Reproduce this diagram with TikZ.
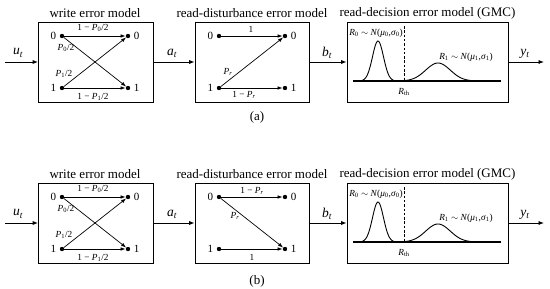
\documentclass[tikz,border=0pt]{standalone}
\usepackage{fontspec}
\setmainfont{Liberation Serif}
\usetikzlibrary{arrows.meta}
\tikzset{
  box/.style={draw, line width=0.8pt, minimum width=#1, minimum height=80pt, inner sep=0pt},
  dotn/.style={circle, fill, inner sep=0pt, minimum size=4.4pt},
  arr/.style={-{Latex[length=5pt,width=3.6pt]}, line width=0.7pt},
  mainarr/.style={-{Latex[length=5.5pt,width=4.2pt]}, line width=0.9pt},
  ttl/.style={font=\fontsize{13}{15}\selectfont, inner sep=0pt},
  lbl/.style={font=\fontsize{9.3}{10}\selectfont, inner sep=0pt},
  bit/.style={font=\fontsize{11}{12}\selectfont},
  var/.style={font=\fontsize{13.5}{14}\selectfont\itshape, inner sep=0pt},
  curve/.style={line width=0.9pt},
}
\newcommand\Pv[1]{\textit{P}\textsubscript{#1}}
\newcommand\rowcommon[2]{%
  \begin{scope}[shift={(0,#2)}]
    % boxes
    \node[box=115pt] (wb#1) at (96,62) {};
    \node[box=114pt] (db#1) at (252,62) {};
    \node[box=161pt] (gb#1) at (427.5,62) {};
    \node[ttl] (wt#1) at (95,13) {write error model};
    \node[ttl] (dt#1) at (252,13) {read-disturbance error model};
    \node[ttl] (gt#1) at (427.5,13) {read-decision error model (GMC)};
    % main arrows
    \coordinate (in#1) at (5,62);
    \coordinate (out#1) at (544,62);
    \draw[mainarr] (in#1) -- (wb#1);
    \draw[mainarr] (wb#1) -- (db#1);
    \draw[mainarr] (db#1) -- (gb#1);
    \draw[mainarr] (gb#1) -- (out#1);
    \node[var] (u#1) at (18,53) {u\textsubscript{t}};
    \node[var] (a#1) at (172,53) {a\textsubscript{t}};
    \node[var] (b#1) at (327,53) {b\textsubscript{t}};
    \node[var] (y#1) at (525,54) {y\textsubscript{t}};
    % write error model
    \node[dotn,label={[bit]left:0}] (wl0#1) at (62,36) {};
    \node[dotn,label={[bit]right:0}] (wr0#1) at (128,36) {};
    \node[dotn,label={[bit]left:1}] (wl1#1) at (62,88) {};
    \node[dotn,label={[bit]right:1}] (wr1#1) at (128,88) {};
    \draw[arr] (wl0#1) -- (wr0#1);
    \draw[arr] (wl0#1) -- (wr1#1);
    \draw[arr] (wl1#1) -- (wr0#1);
    \draw[arr] (wl1#1) -- (wr1#1);
    \node[lbl] (w1#1) at (93,28) {1 − \Pv{0}/2};
    \node[lbl] (w2#1) at (66,48) {\Pv{0}/2};
    \node[lbl] (w3#1) at (64,74) {\Pv{1}/2};
    \node[lbl] (w4#1) at (93,97) {1 − \Pv{1}/2};
    % disturbance dots
    \node[dotn,label={[bit]left:0}] (dl0#1) at (219,36) {};
    \node[dotn,label={[bit]right:0}] (dr0#1) at (285,36) {};
    \node[dotn,label={[bit]left:1}] (dl1#1) at (219,88) {};
    \node[dotn,label={[bit]right:1}] (dr1#1) at (285,88) {};
    % decision model
    \coordinate (gbl#1) at (353,81);
    \coordinate (gbr#1) at (501,81);
    \draw[line width=1.1pt] (gbl#1) -- (gbr#1);
    \draw[curve] plot[domain=356:404, samples=60, smooth] (\x,{81-40*exp(-((\x-378)^2)/60.5)})
      -- plot[domain=404:488, samples=70, smooth] (\x,{81-18*exp(-((\x-438)^2)/300)});
    \coordinate (dtop#1) at (404,26);
    \coordinate (dbot#1) at (404,81);
    \draw[line width=0.8pt, dash pattern=on 2.5pt off 1.8pt] (dtop#1) -- (dbot#1);
    \node[lbl] (r0#1) at (376,33) {\textit{R}\textsubscript{0} $\sim$ \textit{N}(\textit{μ}\textsubscript{0},\textit{σ}\textsubscript{0})};
    \node[lbl] (r1#1) at (466,57) {\textit{R}\textsubscript{1} $\sim$ \textit{N}(\textit{μ}\textsubscript{1},\textit{σ}\textsubscript{1})};
    \node[lbl] (rth#1) at (404,92) {\textit{R}\textsubscript{th}};
  \end{scope}}
\begin{document}
\begin{tikzpicture}[x=1pt,y=-1pt]
  \useasboundingbox (0,0) rectangle (550,289);
  \rowcommon{a}{0}
  \rowcommon{b}{161}
  % row (a) disturbance arrows
  \draw[arr] (dl0a) -- (dr0a);
  \draw[arr] (dl1a) -- (dr0a);
  \draw[arr] (dl1a) -- (dr1a);
  \node[lbl] (da1) at (251,29) {1};
  \node[lbl] (da2) at (228,72) {\Pv{\textit{r}}};
  \node[lbl] (da3) at (244,95) {1 − \Pv{\textit{r}}};
  % row (b) disturbance arrows
  \draw[arr] (dl0b) -- (dr0b);
  \draw[arr] (dl0b) -- (dr1b);
  \draw[arr] (dl1b) -- (dr1b);
  \node[lbl] (db1) at (252,191) {1 − \Pv{\textit{r}}};
  \node[lbl] (db2) at (235,216) {\Pv{\textit{r}}};
  \node[lbl] (db3) at (252,257) {1};
  % captions
  \node[ttl] (capa) at (257,117) {(a)};
  \node[ttl] (capb) at (257,281) {(b)};
\end{tikzpicture}
\end{document}
